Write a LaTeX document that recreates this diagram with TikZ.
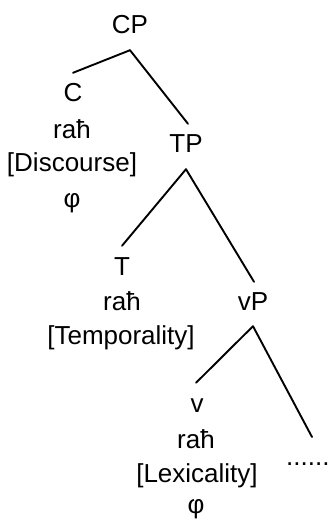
\documentclass[tikz,border=0pt]{standalone}
\usepackage{fontspec}
\setmainfont{Liberation Sans}
\begin{document}
\begin{tikzpicture}[x=1pt,y=-1pt,
  lbl/.style={inner sep=0pt,anchor=base,font=\fontsize{26}{30}\selectfont},
  cat/.style={lbl,text height=18pt,text depth=0pt},
  branch/.style={line width=1.9pt,line cap=round}]
\useasboundingbox (0,0) rectangle (333,520);
% CP
\node[cat] (CP) at (130,33) {CP};
% C column
\node[cat] (C) at (73,101) {C};
\node[lbl] (Crah) at (72,138) {raħ};
\node[lbl] (Cfeat) at (72,171) {[Discourse]};
\node[lbl] (Cphi) at (72,207) {φ};
% TP
\node[cat] (TP) at (186,152) {TP};
% T column
\node[cat] (T) at (122,275) {T};
\node[lbl] (Trah) at (122,310) {raħ};
\node[lbl] (Tfeat) at (121,344) {[Temporality]};
% vP
\node[cat] (vP) at (253,310) {vP};
% v column
\node[cat] (v) at (197,412) {v};
\node[lbl] (vrah) at (196,448) {raħ};
\node[lbl] (vfeat) at (197,482) {[Lexicality]};
\node[lbl] (vphi) at (196,513) {φ};
% dots
\node[lbl,anchor=base west] (dots) at (286,465) {......};
\coordinate (vPend) at (312,437);
% branches
\draw[branch] ([yshift=-17pt]CP.south) -- ([yshift=10pt]C.north);
\draw[branch] ([yshift=-17pt]CP.south) -- ([xshift=2pt,yshift=10pt]TP.north);
\draw[branch] ([yshift=-17pt]TP.south) -- ([yshift=11pt]T.north);
\draw[branch] ([yshift=-17pt]TP.south) -- ([xshift=1pt,yshift=10pt]vP.north);
\draw[branch] ([yshift=-16pt]vP.south) -- ([xshift=-1pt,yshift=11pt]v.north);
\draw[branch] ([yshift=-16pt]vP.south) -- (vPend);
\end{tikzpicture}
\end{document}
